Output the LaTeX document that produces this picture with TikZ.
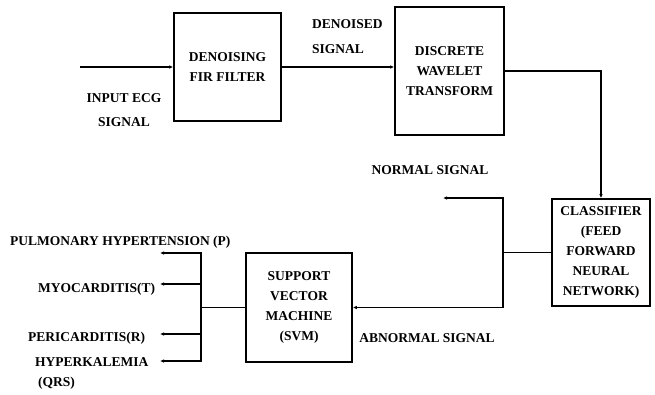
\documentclass[tikz,border=0pt]{standalone}
\usepackage{fontspec}
\setmainfont{Liberation Serif}
\usetikzlibrary{arrows.meta}

\begin{document}
\begin{tikzpicture}[x=1pt,y=-1pt,
  blk/.style={draw,line width=1.6pt,align=center,font=\fontsize{13.5}{20}\selectfont\bfseries,inner sep=1pt},
  lbl/.style={font=\fontsize{13.5}{16}\selectfont\bfseries,inner sep=0pt,align=left},
  wire/.style={line width=1.1pt},
  sig/.style={wire,-{Latex[length=4pt,width=3.5pt]}}]
  \useasboundingbox (0,0) rectangle (655,394);
  % blocks
  \node[blk,minimum width=107pt,minimum height=108pt] (fir) at (227.5,67) {DENOISING\\FIR FILTER};
  \node[blk,minimum width=109pt,minimum height=128pt] (dwt) at (449.5,71) {DISCRETE\\WAVELET\\TRANSFORM};
  \node[blk,minimum width=98pt,minimum height=107pt] (cls) at (601,252.5) {CLASSIFIER\\(FEED\\FORWARD\\NEURAL\\NETWORK)};
  \node[blk,minimum width=106pt,minimum height=109pt] (svm) at (299,307.5) {SUPPORT\\VECTOR\\MACHINE\\(SVM)};
  % branch points
  \coordinate (in) at (80,67);
  \coordinate (split) at (503,252.5);
  \coordinate (normal) at (443,198);
  \coordinate (fan) at (201,307.5);
  \foreach \n/\y in {p/253,t/284,r/334,q/361}
    \coordinate (out\n) at (160,\y);
  % connectors
  \draw[sig] (in) -- (fir.west);
  \draw[sig] (fir.east) -- (fir.east -| dwt.west);
  \draw[sig] (dwt.east) -| (cls.north);
  \draw[wire] (cls.west) -- (split);
  \draw[sig] (split) |- (normal);
  \draw[sig] (split) |- (svm.east);
  \draw[wire] (svm.west) -- (fan);
  \foreach \n in {p,t,r,q}
    \draw[sig] (fan) |- (out\n);
  % labels
  \node[lbl,align=center] (inlbl) at (124,110) {INPUT ECG\\[8pt]SIGNAL};
  \node[lbl,anchor=west] (dnlbl) at (312,37) {DENOISED\\[9pt]SIGNAL};
  \node[lbl] (nolbl) at (430,170) {NORMAL SIGNAL};
  \node[lbl] (ablbl) at (427,338) {ABNORMAL SIGNAL};
  \node[lbl,anchor=west] (plbl) at (10,242) {PULMONARY HYPERTENSION (P)};
  \node[lbl,anchor=west] (tlbl) at (38,289) {MYOCARDITIS(T)};
  \node[lbl,anchor=west] (rlbl) at (28,338) {PERICARDITIS(R)};
  \node[lbl,anchor=west] (qlbl) at (35,362) {HYPERKALEMIA};
  \node[lbl,anchor=west] (qrslbl) at (38,383) {(QRS)};
\end{tikzpicture}
\end{document}
